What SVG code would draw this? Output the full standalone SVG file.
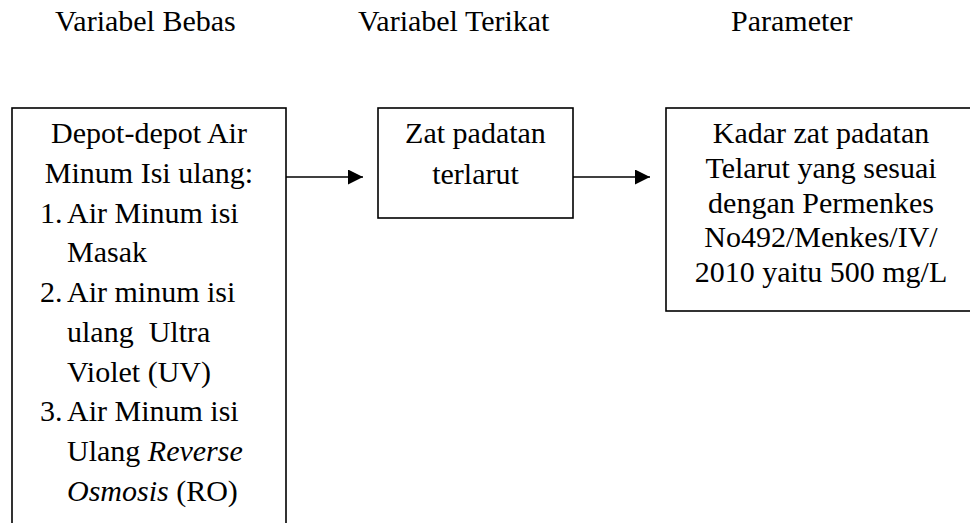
<svg xmlns="http://www.w3.org/2000/svg" width="970" height="523" viewBox="0 0 970 523">
<style>
text{font-family:"Liberation Serif","Times New Roman",serif;font-size:30px;fill:#000;white-space:pre}
.c{text-anchor:middle}
.box{fill:#fff;stroke:#000;stroke-width:1.6}
.conn{stroke:#000;stroke-width:1.6;fill:none}
.i{font-style:italic}
</style>
<defs>
<marker id="ah" markerUnits="userSpaceOnUse" markerWidth="15" markerHeight="15" refX="15" refY="7.5" orient="auto">
<path d="M0,0 L15,7.5 L0,15 Z" fill="#000"/>
</marker>
</defs>
<rect width="970" height="523" fill="#fff"/>
<g id="headers">
<text x="55" y="31">Variabel Bebas</text>
<text x="358" y="31">Variabel Terikat</text>
<text x="731" y="31">Parameter</text>
</g>
<g id="connectors">
<line class="conn" x1="286" y1="177" x2="363" y2="177" marker-end="url(#ah)"/>
<line class="conn" x1="573" y1="177" x2="650" y2="177" marker-end="url(#ah)"/>
</g>
<g id="node-bebas">
<rect class="box" x="12" y="108" width="274" height="430"/>
<text class="c" x="149" y="143">Depot-depot Air</text>
<text class="c" x="149" y="183">Minum Isi ulang:</text>
<text x="40" y="223">1.</text><text x="67" y="223">Air Minum isi</text>
<text x="67" y="262">Masak</text>
<text x="40" y="302">2.</text><text x="67" y="302">Air minum isi</text>
<text x="67" y="342" xml:space="preserve">ulang  Ultra</text>
<text x="67" y="382">Violet (UV)</text>
<text x="40" y="421">3.</text><text x="67" y="421">Air Minum isi</text>
<text x="67" y="461" xml:space="preserve">Ulang <tspan class="i">Reverse</tspan></text>
<text x="67" y="501" xml:space="preserve"><tspan class="i">Osmosis</tspan> (RO)</text>
</g>
<g id="node-terikat">
<rect class="box" x="378" y="108" width="195" height="110"/>
<text class="c" x="475.5" y="143">Zat padatan</text>
<text class="c" x="475.5" y="184">terlarut</text>
</g>
<g id="node-parameter">
<rect class="box" x="666" y="108" width="310" height="203"/>
<text class="c" x="821" y="143">Kadar zat padatan</text>
<text class="c" x="821" y="178">Telarut yang sesuai</text>
<text class="c" x="821" y="213">dengan Permenkes</text>
<text class="c" x="821" y="247">No492/Menkes/IV/</text>
<text class="c" x="821" y="282">2010 yaitu 500 mg/L</text>
</g>
</svg>
